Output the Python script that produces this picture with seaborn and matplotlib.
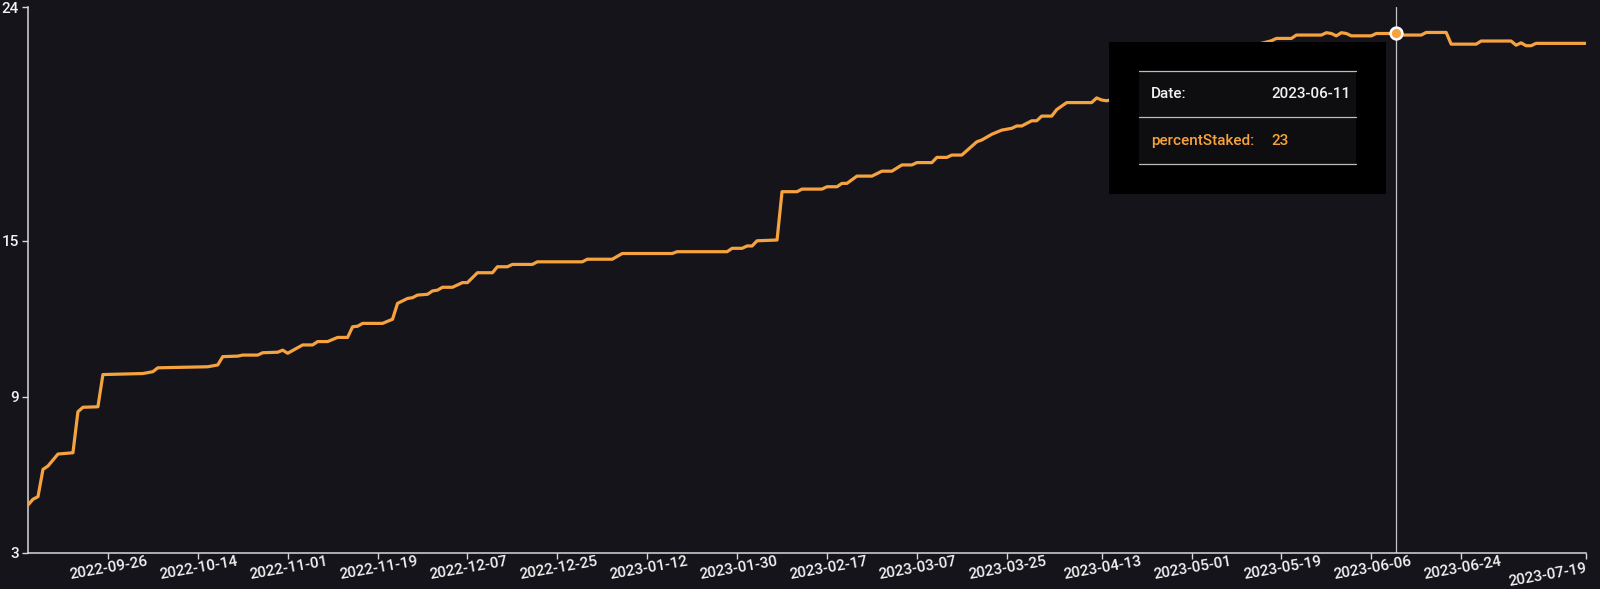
import pandas as pd
import matplotlib.pyplot as plt
from matplotlib.patches import Rectangle
from matplotlib.lines import Line2D
import seaborn as sns

# data: days since START, percent staked
START = "2022-09-10"
END = "2023-07-19"

day_offsets = [
    0, 1, 2, 3, 4, 6, 9, 10, 11, 14, 15, 23, 25, 26, 36, 38, 39, 42, 43, 46,
    47, 50, 51, 52, 55, 57, 58, 60, 62, 64, 65, 66, 67, 71, 73, 74, 76, 77, 78, 80,
    81, 82, 83, 85, 87, 88, 90, 93, 94, 96, 97, 101, 102, 111, 112, 117, 119, 129, 130, 140,
    141, 143, 144, 145, 146, 150, 151, 154, 155, 159, 160, 162, 163, 164, 166, 169, 171, 173, 175, 177,
    178, 181, 182, 184, 185, 187, 188, 190, 191, 193, 195, 197, 198, 199, 201, 202, 203, 205, 206, 208,
    213, 214, 215, 216, 221, 226, 231, 236, 241, 245, 249, 250, 253, 254, 259, 260, 261, 262, 263, 264,
    265, 269, 270, 274, 275, 279, 280, 284, 285, 290, 291, 297, 298, 299, 300, 301, 302, 312,
]
percent_staked = [
    4.83, 5.05, 5.15, 6.20, 6.33, 6.79, 6.84, 8.42, 8.59, 8.61, 9.85, 9.89, 9.96, 10.11, 10.15, 10.22, 10.54, 10.56, 10.60, 10.60,
    10.69, 10.71, 10.79, 10.67, 10.99, 10.99, 11.12, 11.12, 11.28, 11.28, 11.69, 11.71, 11.82, 11.82, 11.98, 12.59, 12.78, 12.81, 12.91, 12.94,
    13.07, 13.10, 13.21, 13.21, 13.39, 13.39, 13.77, 13.77, 14.00, 14.00, 14.09, 14.09, 14.19, 14.19, 14.29, 14.29, 14.51, 14.51, 14.58, 14.58,
    14.71, 14.71, 14.80, 14.80, 15.00, 15.03, 16.89, 16.89, 16.99, 16.99, 17.08, 17.08, 17.21, 17.21, 17.49, 17.49, 17.68, 17.68, 17.92, 17.92,
    18.01, 18.01, 18.21, 18.21, 18.30, 18.30, 18.47, 18.81, 18.88, 19.10, 19.26, 19.33, 19.42, 19.42, 19.62, 19.62, 19.80, 19.80, 20.05, 20.32,
    20.32, 20.50, 20.42, 20.39, 20.60, 21.00, 21.40, 21.80, 22.10, 22.50, 22.70, 22.79, 22.79, 22.92, 22.92, 23.01, 22.98, 22.89, 23.01, 22.98,
    22.89, 22.89, 22.98, 22.98, 22.92, 22.92, 23.02, 23.02, 22.57, 22.57, 22.69, 22.69, 22.53, 22.62, 22.51, 22.51, 22.60, 22.60,
]

tick_labels = [
    "2022-09-26", "2022-10-14", "2022-11-01", "2022-11-19", "2022-12-07",
    "2022-12-25", "2023-01-12", "2023-01-30", "2023-02-17", "2023-03-07",
    "2023-03-25", "2023-04-13", "2023-05-01", "2023-05-19", "2023-06-06",
    "2023-06-24", "2023-07-19",
]
y_ticks = [3, 9, 15, 24]

hover_date = "2023-06-11"
hover_value = "23"

BG = "#15141b"
ORANGE = "#f6a33f"
AXIS = "#d8d8d8"
W, H = 1600, 589


def px(x, y):
    # pixel position -> figure fraction
    return x / W, 1 - y / H


def build_frame():
    dates = pd.Timestamp(START) + pd.to_timedelta(day_offsets, unit="D")
    return pd.DataFrame({"date": dates, "percentStaked": percent_staked})


def draw_tooltip(fig):
    x0, y0 = px(1109, 194)
    x1, y1 = px(1386, 42)
    fig.add_artist(Rectangle((x0, y0), x1 - x0, y1 - y0, transform=fig.transFigure,
                             facecolor="#000000", edgecolor="none", zorder=5))
    ix0, iy0 = px(1139, 164)
    ix1, iy1 = px(1356, 71)
    fig.add_artist(Rectangle((ix0, iy0), ix1 - ix0, iy1 - iy0, transform=fig.transFigure,
                             facecolor="#0e0e10", edgecolor="none", zorder=6))
    for yy in [71, 117, 164]:
        fig.add_artist(Line2D([ix0, ix1], [px(0, yy)[1]] * 2, transform=fig.transFigure,
                              color="#bdbdbd", lw=0.9, zorder=7))
    rows = [("Date:", hover_date, "#f2f2f2", 94), ("percentStaked:", hover_value, ORANGE, 141)]
    for key, val, col, yy in rows:
        fig.text(*px(1151, yy), key, color=col, fontsize=11, fontweight="medium",
                 ha="left", va="center", zorder=8)
        fig.text(*px(1271, yy), val, color=col, fontsize=11, fontweight="medium",
                 ha="left", va="center", zorder=8)


def main():
    df = build_frame()
    sns.set_theme(style="dark")
    plt.rcParams["font.family"] = ["Roboto", "DejaVu Sans"]

    fig = plt.figure(figsize=(16, 5.89), dpi=100, facecolor=BG)
    l, b = px(28, 552.5)
    r, t = px(1586, 7)
    ax = fig.add_axes([l, b, r - l, t - b])
    ax.set_facecolor(BG)

    sns.lineplot(data=df, x="date", y="percentStaked", ax=ax, color=ORANGE, linewidth=2.3, zorder=3)

    hd = pd.Timestamp(hover_date)
    hy = df.loc[df["date"] == hd, "percentStaked"].iloc[0]
    ax.axvline(hd, color="#c4c4c4", lw=0.9, zorder=2)
    ax.plot([hd], [hy], marker="o", markersize=8.5, markerfacecolor=ORANGE,
            markeredgecolor="white", markeredgewidth=1.8, zorder=4, clip_on=False)

    ax.set_xlim(pd.Timestamp(START), pd.Timestamp(END))
    ax.set_ylim(3, 24)
    ax.set_yticks(y_ticks)
    ax.set_yticklabels([str(v) for v in y_ticks], fontweight="medium")
    ax.set_xticks(pd.to_datetime(tick_labels))
    ax.set_xticklabels(tick_labels, rotation=10, ha="center", rotation_mode="anchor",
                       fontweight="medium")
    # the last label sits flush with the end of the axis
    ax.get_xticklabels()[-1].set_ha("right")

    ax.grid(False)
    for side in ["top", "right"]:
        ax.spines[side].set_visible(False)
    for side in ["left", "bottom"]:
        ax.spines[side].set_color(AXIS)
        ax.spines[side].set_linewidth(1.1)
    ax.tick_params(axis="both", colors=AXIS, labelcolor="#f2f2f2", labelsize=11,
                   length=4.5, width=1, direction="out", bottom=True, left=True)
    ax.tick_params(axis="x", pad=2)
    ax.tick_params(axis="y", pad=2)
    ax.set_xlabel("")
    ax.set_ylabel("")

    draw_tooltip(fig)
    fig.savefig("out.png", dpi=100, facecolor=BG)
    plt.close(fig)


if __name__ == "__main__":
    main()
